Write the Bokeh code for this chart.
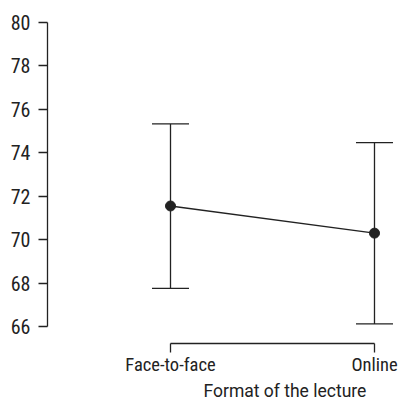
from bokeh.plotting import figure
from bokeh.models import (FixedTicker, ColumnDataSource, Whisker, TeeHead, Title, Range1d)
from bokeh.embed import file_html
from bokeh.resources import INLINE

# data
categories = ["Face-to-face", "Online"]
positions = [1, 2]
means = [71.55, 70.30]
upper = [75.33, 74.47]
lower = [67.76, 66.12]
y_ticks = [66, 68, 70, 72, 74, 76, 78, 80]
x_title = "Format of the lecture"

INK = "#222222"
FONT = "Roboto Condensed"

p = figure(width=400, height=400, output_backend="svg", toolbar_location=None,
           x_range=Range1d(0.397, 2.1275), y_range=Range1d(65.217, 80.553),
           min_border_left=47, min_border_right=0, min_border_top=10, min_border_bottom=57)
p.outline_line_color = None
p.xgrid.visible = False
p.ygrid.visible = False
p.background_fill_color = "white"
p.border_fill_color = "white"

src = ColumnDataSource(dict(x=positions, m=means, up=upper, lo=lower))

w = Whisker(base="x", upper="up", lower="lo", source=src, dimension="height",
            line_color=INK, line_width=1.3,
            upper_head=TeeHead(size=37, line_color=INK, line_width=1.3),
            lower_head=TeeHead(size=37, line_color=INK, line_width=1.3))
p.add_layout(w)

p.line("x", "m", source=src, line_color=INK, line_width=1.3)
p.scatter("x", "m", source=src, size=10, fill_color=INK, line_color=INK)

# y axis
ya = p.yaxis[0]
ya.ticker = FixedTicker(ticks=y_ticks)
ya.bounds = (min(y_ticks), max(y_ticks))
ya.major_tick_out = 9
ya.major_tick_in = 0
ya.minor_tick_out = 0
ya.minor_tick_in = 0
ya.major_label_standoff = 8
ya.axis_line_color = INK
ya.axis_line_width = 1.3
ya.major_tick_line_color = INK
ya.major_tick_line_width = 1.3
ya.major_label_text_font = FONT
ya.major_label_text_font_size = "20px"
ya.major_label_text_color = INK

# x axis
xa = p.xaxis[0]
xa.ticker = FixedTicker(ticks=positions)
xa.major_label_overrides = {pos: c for pos, c in zip(positions, categories)}
xa.bounds = (min(positions), max(positions))
xa.major_tick_out = 9
xa.major_tick_in = 0
xa.minor_tick_out = 0
xa.minor_tick_in = 0
xa.major_label_standoff = 1
xa.axis_line_color = INK
xa.axis_line_width = 1.3
xa.major_tick_line_color = INK
xa.major_tick_line_width = 1.3
xa.major_label_text_font = FONT
xa.major_label_text_font_size = "18.5px"
xa.major_label_text_color = INK
xa.major_label_text_line_height = 1.0

t = Title(text=x_title, align="left", offset=156, text_font="Roboto",
          text_font_size="17.5px", text_font_style="normal", text_color=INK, standoff=0,
          text_line_height=1.0)
p.add_layout(t, "below")

open("out.html", "w").write(file_html(p, INLINE))
